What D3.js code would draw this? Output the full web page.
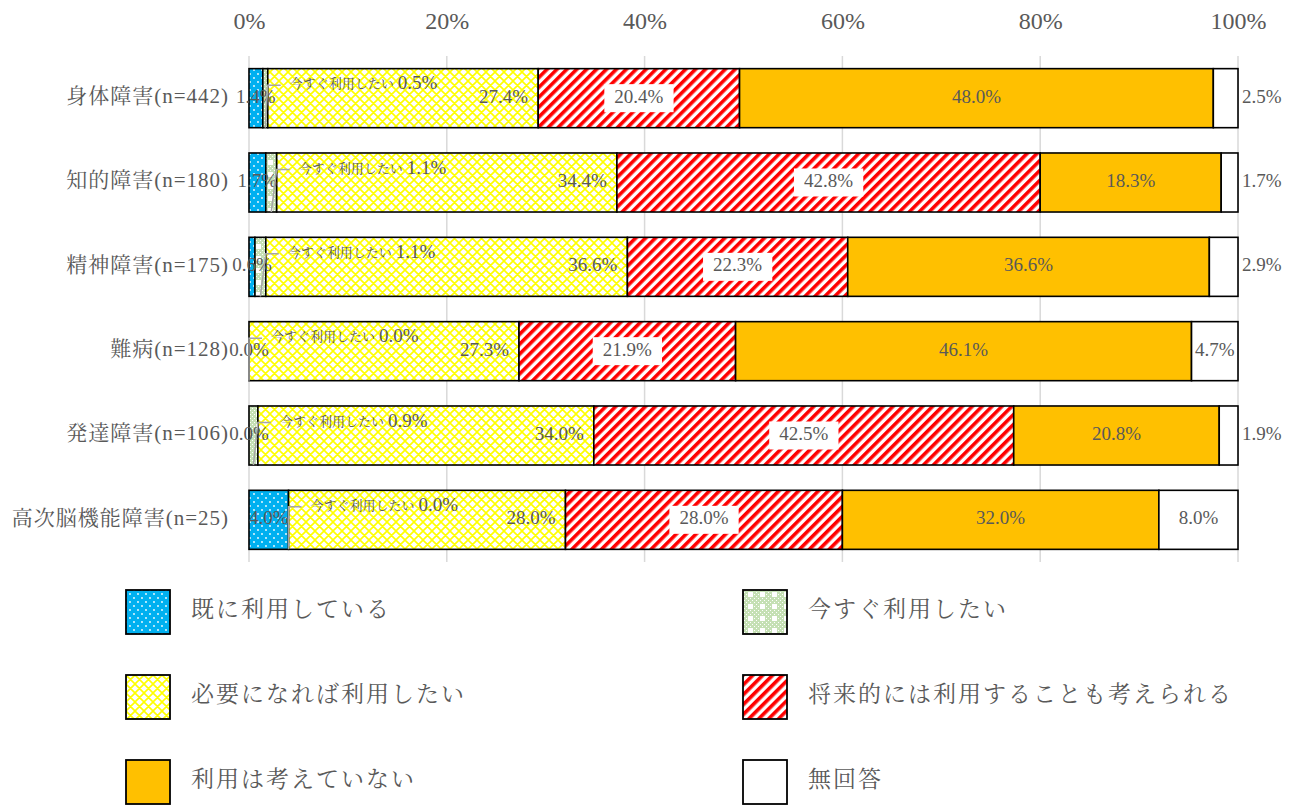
<!DOCTYPE html>
<html><head><meta charset="utf-8">
<script src="https://cdn.jsdelivr.net/npm/d3@7"></script>
<style>
body{margin:0;background:#fff;}
svg text{font-family:"Liberation Serif","Noto Serif CJK JP","Noto Sans CJK JP",serif;fill:#595959;}
</style></head>
<body><svg id="c" width="1296" height="805"></svg>
<script>
const categories = ["身体障害(n=442)","知的障害(n=180)","精神障害(n=175)","難病(n=128)","発達障害(n=106)","高次脳機能障害(n=25)"];
const seriesNames = ["既に利用している","今すぐ利用したい","必要になれば利用したい","将来的には利用することも考えられる","利用は考えていない","無回答"];
const already = [1.4,1.7,0.6,0.0,0.0,4.0];
const nowUse = [0.5,1.1,1.1,0.0,0.9,0.0];
const ifNeeded = [27.4,34.4,36.6,27.3,34.0,28.0];
const future = [20.4,42.8,22.3,21.9,42.5,28.0];
const notConsidered = [48.0,18.3,36.6,46.1,20.8,32.0];
const noAnswer = [2.5,1.7,2.9,4.7,1.9,8.0];
const tickValues = [0,20,40,60,80,100];

const series = [already, nowUse, ifNeeded, future, notConsidered, noAnswer];
const svg = d3.select("#c");
const defs = svg.append("defs");

// patterns
const pBlue = defs.append("pattern").attr("id","p0").attr("patternUnits","userSpaceOnUse").attr("width",8).attr("height",8);
pBlue.append("rect").attr("width",8).attr("height",8).attr("fill","#00B0F0");
pBlue.append("circle").attr("cx",2).attr("cy",2).attr("r",0.9).attr("fill","#fff");
pBlue.append("circle").attr("cx",6).attr("cy",6).attr("r",0.9).attr("fill","#fff");

const pGreen = defs.append("pattern").attr("id","p1").attr("patternUnits","userSpaceOnUse").attr("width",12).attr("height",12);
pGreen.append("rect").attr("width",12).attr("height",12).attr("fill","#C5E0B4");
for(let i=0;i<12;i+=2){for(let j=0;j<12;j+=2){ if(((i+j)/2)%2===0) pGreen.append("rect").attr("x",i).attr("y",j).attr("width",1).attr("height",1).attr("fill","#fff");}}
pGreen.append("rect").attr("x",4).attr("y",4).attr("width",5).attr("height",5).attr("fill","#fff");

const pYellow = defs.append("pattern").attr("id","p2").attr("patternUnits","userSpaceOnUse").attr("width",9).attr("height",9);
pYellow.append("rect").attr("width",9).attr("height",9).attr("fill","#fff");
pYellow.append("path").attr("d","M0,0L9,9M9,0L0,9M-1,8L1,10M8,-1L10,1").attr("stroke","#FFFF00").attr("stroke-width",1.6);

const pRed = defs.append("pattern").attr("id","p3").attr("patternUnits","userSpaceOnUse").attr("width",7).attr("height",7).attr("patternTransform","rotate(45)");
pRed.append("rect").attr("width",7).attr("height",7).attr("fill","#fff");
pRed.append("rect").attr("width",3.6).attr("height",7).attr("fill","#FF0000");

const fills = ["url(#p0)","url(#p1)","url(#p2)","url(#p3)","#FFC000","#FFFFFF"];

const x = d3.scaleLinear().domain([0,100]).range([249,1238]);
const y = d3.scaleBand().domain(categories).range([56,562]).paddingInner(0.3).paddingOuter(0.15);

// grid
svg.append("g").selectAll("line").data(tickValues).join("line")
  .attr("x1",d=>x(d)).attr("x2",d=>x(d)).attr("y1",56).attr("y2",562)
  .attr("stroke","#D9D9D9").attr("stroke-width",1.5);

// top axis
const axis = d3.axisTop(x).tickValues(tickValues).tickFormat(d=>d+"%").tickSize(0).tickPadding(0);
const ag = svg.append("g").attr("transform","translate(0,29)").call(axis);
ag.select(".domain").remove();
ag.selectAll("text").attr("font-size",24).attr("fill","#595959").attr("dy","0");

// category labels
svg.append("g").selectAll("text").data(categories).join("text")
  .attr("x",229).attr("y",d=>y(d)+y.bandwidth()/2).attr("text-anchor","end")
  .attr("dominant-baseline","middle").attr("font-size",21).attr("letter-spacing",1).text(d=>d);

// stacked data
const rows = categories.map((c,i)=>{
  const vals = series.map(s=>s[i]);
  const total = d3.sum(vals);
  let acc = 0;
  const segs = vals.map((v,k)=>{const s={k,v,c,i,x0:acc/total*100,x1:(acc+v)/total*100}; acc+=v; return s;});
  return segs;
});

const barG = svg.append("g");
rows.forEach(segs=>{
  barG.selectAll(null).data(segs).join("rect")
    .attr("x",d=>x(d.x0)).attr("width",d=>x(d.x1)-x(d.x0))
    .attr("y",d=>y(d.c)).attr("height",y.bandwidth())
    .attr("fill",d=>fills[d.k]).attr("stroke","#000").attr("stroke-width",1.6);
});

const fmt = v=>v.toFixed(1)+"%";
const labG = svg.append("g");
rows.forEach(segs=>{
  const cy = y(segs[0].c)+y.bandwidth()/2;
  const s0 = segs[0];
  labG.append("text").attr("x",(x(s0.x0)+x(s0.x1))/2).attr("y",cy).attr("text-anchor","middle")
    .attr("dominant-baseline","middle").attr("font-size",19).text(fmt(s0.v));
  const s1 = segs[1];
  const tx = x(s1.x1)+22, ty = cy-13;
  labG.append("path").attr("d",`M${(x(s1.x0)+x(s1.x1))/2},${y(s1.c)+y.bandwidth()}L${tx-22},${ty}L${tx-9},${ty}`)
    .attr("fill","none").attr("stroke","#A6A6A6").attr("stroke-width",1.5);
  const t1 = labG.append("text").attr("x",tx).attr("y",ty).attr("dominant-baseline","middle");
  t1.append("tspan").attr("font-size",13).text(seriesNames[1]);
  t1.append("tspan").attr("font-size",19).attr("dx",4).text(fmt(s1.v));
  const s2 = segs[2];
  labG.append("text").attr("x",x(s2.x1)-10).attr("y",cy).attr("text-anchor","end")
    .attr("dominant-baseline","middle").attr("font-size",19).text(fmt(s2.v));
  const s3 = segs[3];
  const g3 = labG.append("g");
  const t3 = g3.append("text").attr("x",(x(s3.x0)+x(s3.x1))/2).attr("y",cy).attr("text-anchor","middle")
    .attr("dominant-baseline","middle").attr("font-size",19).text(fmt(s3.v));
  const bb = t3.node().getBBox();
  g3.insert("rect","text").attr("x",bb.x-10).attr("y",cy-14).attr("width",bb.width+20).attr("height",28).attr("fill","#fff");
  const s4 = segs[4];
  labG.append("text").attr("x",(x(s4.x0)+x(s4.x1))/2).attr("y",cy).attr("text-anchor","middle")
    .attr("dominant-baseline","middle").attr("font-size",19).text(fmt(s4.v));
  const s5 = segs[5];
  const outside = s5.v < 4;
  labG.append("text").attr("x",outside ? x(100)+4 : (x(s5.x0)+x(s5.x1))/2).attr("y",cy)
    .attr("text-anchor",outside?"start":"middle").attr("dominant-baseline","middle").attr("font-size",19).text(fmt(s5.v));
});

// legend
const legCols = [126,743], legRows=[590,675,760];
seriesNames.forEach((n,k)=>{
  const lx = legCols[k%2], ly = legRows[Math.floor(k/2)];
  svg.append("rect").attr("x",lx).attr("y",ly).attr("width",44).attr("height",44)
    .attr("fill",fills[k]).attr("stroke","#000").attr("stroke-width",1.8);
  svg.append("text").attr("x",lx+65).attr("y",ly+22).attr("dominant-baseline","middle")
    .attr("font-size",23).attr("letter-spacing",2).text(n);
});
</script></body></html>
